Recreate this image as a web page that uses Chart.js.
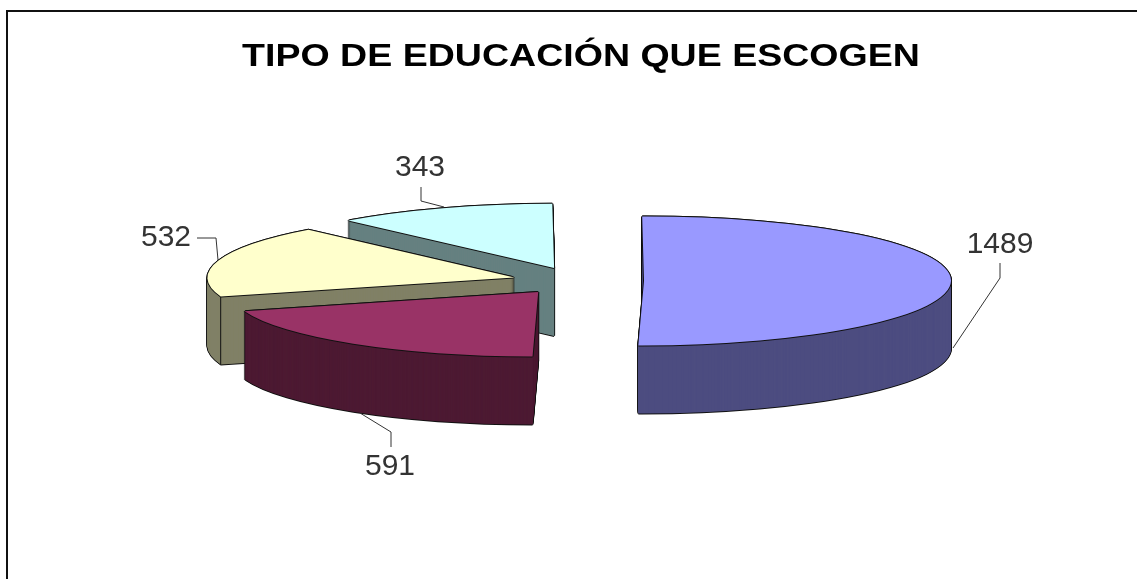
<!DOCTYPE html>
<html>
<head>
<meta charset="utf-8">
<script src="https://cdn.jsdelivr.net/npm/chart.js@4"></script>
<style>
html, body { margin: 0; padding: 0; background: #fff; }
#box { position: relative; width: 1137px; height: 579px; overflow: hidden; }
#frame { position: absolute; left: 6px; top: 10px; right: -4px; bottom: -4px; border: 2px solid #111; }
canvas { position: absolute; left: 0; top: 0; }
</style>
</head>
<body>
<div id="box"><div id="frame"></div><canvas id="pie3d" width="1137" height="579"></canvas></div>
<script>
var chartTitle = "TIPO DE EDUCACIÓN QUE ESCOGEN";
var categories = ["Tipo 1", "Tipo 2", "Tipo 3", "Tipo 4"];
var values = [1489, 591, 532, 343];
var topColors = ["#9999FF", "#993366", "#FFFFCC", "#CCFFFF"];
var wallColors = ["#4D4D80", "#4D1A33", "#808066", "#668080"];

// 3d look of the pie
var pieX = 578, pieY = 281, pieRadius = 307;
var squash = 0.21, lean = -0.03, depth = 68, explode = 66;
var paintOrder = [3, 2, 1, 0];
var titleCenter = 581, titleStretch = 1.173;

// where each value label and its leader line sit, same order as values
var labelAt = [
    { x: 1000, y: 245, line: [[1000, 263], [1000, 278], [953, 348]] },
    { x: 390, y: 467, line: [[391, 447], [391, 432], [360, 413]] },
    { x: 166, y: 238, line: [[197, 238], [216, 238], [218, 260]] },
    { x: 420, y: 168, line: [[421, 187], [421, 201], [444, 207]] }
];

function drawSlice(ctx, arc, color, dx, dy) {
    var mid = (arc.startAngle + arc.endAngle) / 2;
    var saved = arc.options;
    arc.options = Object.assign({}, saved, { backgroundColor: color, borderWidth: 0, offset: 0 });
    ctx.save();
    ctx.translate(pieX + dx, pieY + dy);
    ctx.transform(1, 0, lean * squash, squash, 0, 0);
    ctx.translate(Math.cos(mid) * explode - arc.x, Math.sin(mid) * explode - arc.y);
    arc.draw(ctx);
    ctx.restore();
    arc.options = saved;
}

function screenPoint(arc, angle) {
    var mid = (arc.startAngle + arc.endAngle) / 2;
    var px = Math.cos(mid) * explode + Math.cos(angle) * arc.outerRadius;
    var py = Math.sin(mid) * explode + Math.sin(angle) * arc.outerRadius;
    return { x: pieX + px + lean * squash * py, y: pieY + squash * py };
}

var pie3dPlugin = {
    id: "pie3d",
    // the title box is drawn between these two hooks, the reference title is stretched wide
    beforeDraw: function (chart) {
        var ctx = chart.ctx;
        ctx.save();
        ctx.translate(titleCenter, 0);
        ctx.scale(titleStretch, 1);
        ctx.translate(-titleCenter, 0);
    },
    beforeDatasetsDraw: function (chart) {
        chart.ctx.restore();
    },
    beforeDatasetDraw: function (chart, args) {
        var ctx = chart.ctx;
        var arcs = chart.getDatasetMeta(args.index).data;
        paintOrder.forEach(function (i) {
            var arc = arcs[i], z;
            // black silhouette first, colours go over it
            for (z = depth; z >= 0; z -= 1) {
                drawSlice(ctx, arc, "#111", -1, z);
                drawSlice(ctx, arc, "#111", 1, z);
                drawSlice(ctx, arc, "#111", 0, z - 1);
                drawSlice(ctx, arc, "#111", 0, z + 1);
            }
            for (z = depth; z > 0; z -= 0.5) {
                drawSlice(ctx, arc, wallColors[i], 0, z);
            }
            // edge where the cut face meets the round wall
            [arc.startAngle, arc.endAngle].forEach(function (a) {
                var p = screenPoint(arc, a);
                if (Math.sin(a) > -0.2 && i !== 0 && i !== 1) {
                    ctx.strokeStyle = "#111";
                    ctx.lineWidth = 1;
                    ctx.beginPath();
                    ctx.moveTo(p.x, p.y);
                    ctx.lineTo(p.x, p.y + depth);
                    ctx.stroke();
                }
            });
            drawSlice(ctx, arc, "#111", -1, 0);
            drawSlice(ctx, arc, "#111", 1, 0);
            drawSlice(ctx, arc, "#111", 0, -1);
            drawSlice(ctx, arc, "#111", 0, 1);
            drawSlice(ctx, arc, topColors[i], 0, 0);
        });
        return false;
    },
    afterDraw: function (chart) {
        var ctx = chart.ctx;
        ctx.save();
        ctx.font = "30px 'Liberation Sans'";
        ctx.textAlign = "center";
        ctx.textBaseline = "middle";
        ctx.fillStyle = "#333";
        ctx.strokeStyle = "#333";
        ctx.lineWidth = 1;
        values.forEach(function (v, i) {
            var lab = labelAt[i];
            ctx.fillText(String(v), lab.x, lab.y);
            ctx.beginPath();
            lab.line.forEach(function (p, n) {
                if (n === 0) ctx.moveTo(p[0], p[1]);
                else ctx.lineTo(p[0], p[1]);
            });
            ctx.stroke();
        });
        ctx.restore();
    }
};

new Chart(document.getElementById("pie3d"), {
    type: "pie",
    data: {
        labels: categories,
        datasets: [{
            data: values,
            backgroundColor: topColors,
            borderWidth: 0,
            clip: false
        }]
    },
    options: {
        responsive: false,
        animation: false,
        radius: pieRadius,
        rotation: -0.7,
        layout: { padding: { left: 25 } },
        plugins: {
            legend: { display: false },
            tooltip: { enabled: false },
            title: {
                display: true,
                text: chartTitle,
                color: "#000",
                font: { family: "'Liberation Sans'", size: 32, weight: "bold" },
                padding: { top: 38, bottom: 0 }
            }
        }
    },
    plugins: [pie3dPlugin]
});
</script>
</body>
</html>
